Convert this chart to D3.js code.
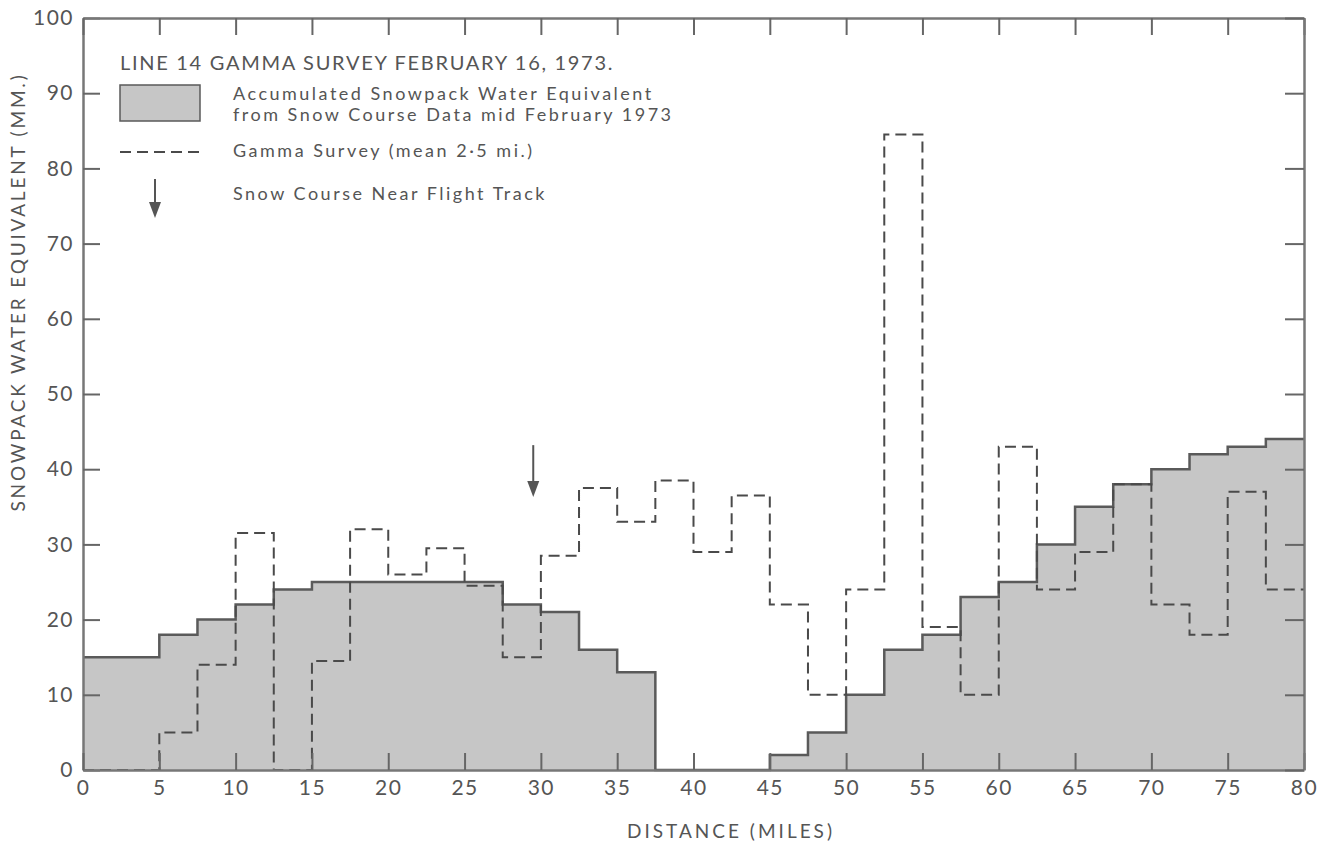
<!DOCTYPE html>
<html>
<head>
<meta charset="utf-8">
<script src="https://cdn.jsdelivr.net/npm/d3@7"></script>
<style>
  html, body { margin: 0; padding: 0; background: #fff; }
  svg text { font-family: Lato, 'Open Sans', sans-serif; fill: #555; }
</style>
</head>
<body>
<div id="chart"></div>
<script>
// Distance bins are 2.5 miles wide, starting at 0
const binStarts = d3.range(0, 80, 2.5);

// Snowpack water equivalent from snow course data (mm)
const snowpack = [15, 15, 18, 20, 22, 24, 25, 25, 25, 25, 25, 22, 21, 16, 13, 0,
  0, 0, 2, 5, 10, 16, 18, 23, 25, 30, 35, 38, 40, 42, 43, 44];

// Gamma survey (mean 2.5 mi.)
const gamma = [0, 0, 5, 14, 31.5, 0, 14.5, 32, 26, 29.5, 24.5, 15, 28.5, 37.5, 33, 38.5,
  29, 36.5, 22, 10, 24, 84.5, 19, 10, 43, 24, 29, 38, 22, 18, 37, 24];

// Snow course near flight track (miles)
const snowCourses = [29.5];

const xTicks = d3.range(0, 81, 5);
const yTicks = d3.range(0, 101, 10);

const titleText = 'LINE 14  GAMMA SURVEY  FEBRUARY 16, 1973.';
const legendLines = [
  ['Accumulated Snowpack Water Equivalent', 'from Snow Course Data mid February 1973'],
  ['Gamma Survey (mean 2·5 mi.)'],
  ['Snow Course Near Flight Track']
];

const width = 1338;
const height = 847;
const plot = { left: 83, right: 1304, top: 18, bottom: 770 };
const ink = '#555';
const fillGray = '#c6c6c6';

const svg = d3.select('#chart')
  .append('svg')
  .attr('width', width)
  .attr('height', height);

const x = d3.scaleLinear().domain([0, 80]).range([plot.left, plot.right]);
const y = d3.scaleLinear().domain([0, 100]).range([plot.bottom, plot.top]);

// step data with a closing point at 80 miles
const toSteps = (vals) => {
  const pts = vals.map((v, i) => ({ d: binStarts[i], v }));
  pts.push({ d: 80, v: vals[vals.length - 1] });
  return pts;
};
const snowSteps = toSteps(snowpack);
const gammaSteps = toSteps(gamma);

// Snowpack area
const area = d3.area()
  .curve(d3.curveStepAfter)
  .x((d) => x(d.d))
  .y0(y(0))
  .y1((d) => y(d.v));

svg.append('path')
  .datum(snowSteps)
  .attr('d', area)
  .attr('fill', fillGray);

const line = d3.line()
  .curve(d3.curveStepAfter)
  .x((d) => x(d.d))
  .y((d) => y(d.v));

svg.append('path')
  .datum(snowSteps)
  .attr('d', line)
  .attr('fill', 'none')
  .attr('stroke', '#5a5a5a')
  .attr('stroke-width', 2.5);

// Gamma survey dashed line
svg.append('path')
  .datum(gammaSteps)
  .attr('d', line)
  .attr('fill', 'none')
  .attr('stroke', '#4a4a4a')
  .attr('stroke-width', 2)
  .attr('stroke-dasharray', '11,6');

// Axes, ticks pointing inward
const leftAxis = svg.append('g')
  .attr('transform', `translate(${plot.left},0)`)
  .call(d3.axisLeft(y).tickValues(yTicks).tickSizeInner(-17).tickSizeOuter(0).tickPadding(9));
const bottomAxis = svg.append('g')
  .attr('transform', `translate(0,${plot.bottom})`)
  .call(d3.axisBottom(x).tickValues(xTicks).tickSizeInner(-17).tickSizeOuter(0).tickPadding(10));
svg.append('g')
  .attr('transform', `translate(0,${plot.top})`)
  .call(d3.axisTop(x).tickValues(xTicks).tickSizeInner(-17).tickSizeOuter(0).tickFormat(''));
svg.append('g')
  .attr('transform', `translate(${plot.right},0)`)
  .call(d3.axisRight(y).tickValues(yTicks).tickSizeInner(-19).tickSizeOuter(0).tickFormat(''));

svg.selectAll('.domain').attr('stroke', '#777').attr('stroke-width', 2.5);
svg.selectAll('.tick line').attr('stroke', '#666').attr('stroke-width', 2);
leftAxis.selectAll('text')
  .style('font-size', '21px')
  .style('letter-spacing', '1.5px')
  .attr('fill', ink);
bottomAxis.selectAll('text')
  .style('font-size', '21px')
  .style('letter-spacing', '1.5px')
  .attr('fill', ink);

// Axis titles
svg.append('text')
  .attr('transform', 'translate(25,292) rotate(-90)')
  .attr('text-anchor', 'middle')
  .style('font-size', '19px')
  .style('letter-spacing', '2.8px')
  .text('SNOWPACK WATER EQUIVALENT (MM.)');

svg.append('text')
  .attr('x', 731)
  .attr('y', 838)
  .attr('text-anchor', 'middle')
  .style('font-size', '19px')
  .style('letter-spacing', '3px')
  .text('DISTANCE (MILES)');

// Title
svg.append('text')
  .attr('x', 120)
  .attr('y', 70)
  .style('font-size', '20px')
  .style('letter-spacing', '1.7px')
  .text(titleText);

// Legend
const lgX = 120;
const lgW = 80;
const txtX = 233;

svg.append('rect')
  .attr('x', lgX).attr('y', 85)
  .attr('width', lgW).attr('height', 36)
  .attr('fill', fillGray)
  .attr('stroke', '#5a5a5a')
  .attr('stroke-width', 1.5);

svg.append('line')
  .attr('x1', lgX).attr('x2', lgX + lgW)
  .attr('y1', 152).attr('y2', 152)
  .attr('stroke', '#4a4a4a')
  .attr('stroke-width', 2)
  .attr('stroke-dasharray', '11,6');

const arrow = (g, cx, y0, y1) => {
  g.append('line')
    .attr('x1', cx).attr('x2', cx)
    .attr('y1', y0).attr('y2', y1 - 12)
    .attr('stroke', '#555')
    .attr('stroke-width', 2);
  g.append('path')
    .attr('d', `M${cx - 6},${y1 - 16} L${cx + 6},${y1 - 16} L${cx},${y1} Z`)
    .attr('fill', '#555');
};

arrow(svg, 155, 179, 218);

const legendY = [[100, 121], [157], [200]];
legendLines.forEach((lines, i) => {
  lines.forEach((t, j) => {
    svg.append('text')
      .attr('x', txtX)
      .attr('y', legendY[i][j])
      .style('font-size', '18px')
      .style('letter-spacing', '2.5px')
      .text(t);
  });
});

// Snow course arrows on the chart
snowCourses.forEach((m) => arrow(svg, x(m), y(43.2), y(36.3)));
</script>
</body>
</html>
